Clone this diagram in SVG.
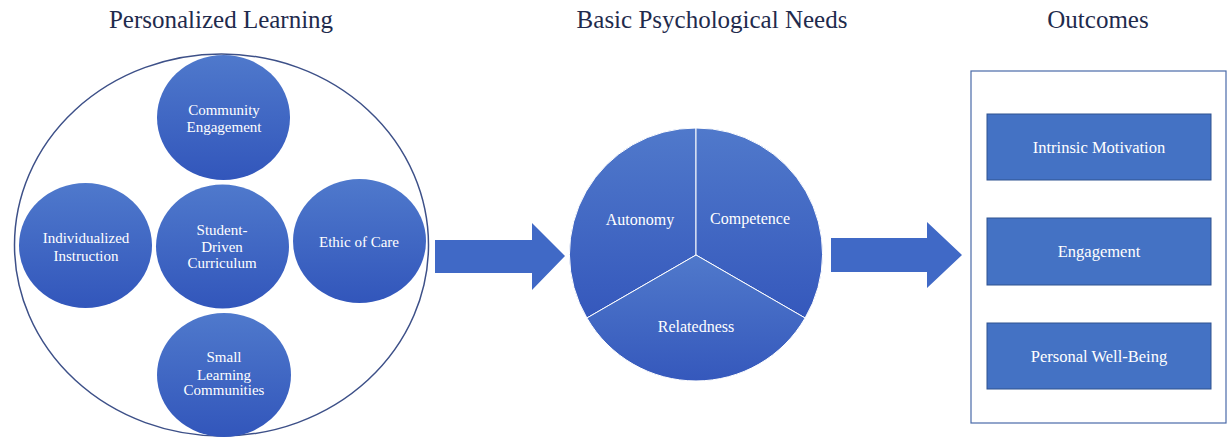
<svg xmlns="http://www.w3.org/2000/svg" width="1230" height="437" viewBox="0 0 1230 437">
<style>
.title{font-family:"Liberation Serif","Times New Roman",serif;font-size:25px;fill:#1f2b4d;text-anchor:middle}
.lbl{font-family:"Liberation Serif","Times New Roman",serif;font-size:15px;fill:#ffffff;text-anchor:middle}
.plbl{font-family:"Liberation Serif","Times New Roman",serif;font-size:16px;fill:#ffffff;text-anchor:middle}
.blbl{font-family:"Liberation Serif","Times New Roman",serif;font-size:16.5px;fill:#ffffff;text-anchor:middle}
.bub{fill:url(#g1)}
.box{fill:#4472c4;stroke:#2f528f;stroke-width:1}
.arrow{fill:#4069c6}
</style>
<defs>
<linearGradient id="g1" x1="0" y1="0" x2="0" y2="1">
<stop offset="0" stop-color="#4f79cc"/>
<stop offset="1" stop-color="#3256bb"/>
</linearGradient>
<linearGradient id="g2" x1="0" y1="0" x2="0" y2="1">
<stop offset="0" stop-color="#5079cb"/>
<stop offset="1" stop-color="#3558bc"/>
</linearGradient>
</defs>
<g id="titles">
<text class="title" x="221" y="28">Personalized Learning</text>
<text class="title" x="712" y="28">Basic Psychological Needs</text>
<text class="title" x="1098" y="28">Outcomes</text>
</g>
<g id="personalized-learning">
<ellipse cx="221.5" cy="245" rx="207" ry="191" fill="none" stroke="#3d5088" stroke-width="1.5"/>
</g>
<g id="community-engagement">
<ellipse class="bub" cx="223.5" cy="117.5" rx="66.5" ry="62.5"/>
<text class="lbl" x="224" y="115">Community</text>
<text class="lbl" x="224" y="132">Engagement</text>
</g>
<g id="individualized-instruction">
<ellipse class="bub" cx="85.5" cy="245.5" rx="66.5" ry="62.5"/>
<text class="lbl" x="86" y="243">Individualized</text>
<text class="lbl" x="86" y="261">Instruction</text>
</g>
<g id="student-driven-curriculum">
<ellipse class="bub" cx="222.5" cy="246.5" rx="66.5" ry="62"/>
<text class="lbl" x="222" y="235">Student-</text>
<text class="lbl" x="222" y="252">Driven</text>
<text class="lbl" x="222" y="268">Curriculum</text>
</g>
<g id="ethic-of-care">
<ellipse class="bub" cx="359.5" cy="241" rx="66.5" ry="62"/>
<text class="lbl" x="359" y="247">Ethic of Care</text>
</g>
<g id="small-learning-communities">
<ellipse class="bub" cx="224" cy="375" rx="67" ry="62"/>
<text class="lbl" x="224" y="362">Small</text>
<text class="lbl" x="224" y="380">Learning</text>
<text class="lbl" x="224" y="395">Communities</text>
</g>
<g id="connectors">
<path class="arrow" d="M435,240 H532 V223 L565,256 L532,290 V273 H435 Z"/>
<path class="arrow" d="M831,238 H927 V222 L962,255 L927,288 V272 H831 Z"/>
</g>
<g id="basic-needs">
<path d="M696,255 L696,128 A126,126 0 0 0 586.9,318 Z" fill="url(#g2)" stroke="#ffffff" stroke-width="1"/>
<path d="M696,255 L696,128 A126,126 0 0 1 805.1,318 Z" fill="url(#g2)" stroke="#ffffff" stroke-width="1"/>
<path d="M696,255 L805.1,318 A126,126 0 0 1 586.9,318 Z" fill="url(#g2)" stroke="#ffffff" stroke-width="1"/>
<text class="plbl" x="640" y="225">Autonomy</text>
<text class="plbl" x="750" y="224">Competence</text>
<text class="plbl" x="696" y="332">Relatedness</text>
</g>
<g id="outcomes">
<rect x="971" y="71" width="255" height="352" fill="#ffffff" stroke="#4a6aa8" stroke-width="1.2"/>
</g>
<g id="intrinsic-motivation">
<rect class="box" x="987" y="114" width="224" height="66"/>
<text class="blbl" x="1099" y="153">Intrinsic Motivation</text>
</g>
<g id="engagement">
<rect class="box" x="987" y="218" width="224" height="67"/>
<text class="blbl" x="1099" y="257">Engagement</text>
</g>
<g id="personal-well-being">
<rect class="box" x="987" y="323" width="224" height="66"/>
<text class="blbl" x="1099" y="362">Personal Well-Being</text>
</g>
</svg>
